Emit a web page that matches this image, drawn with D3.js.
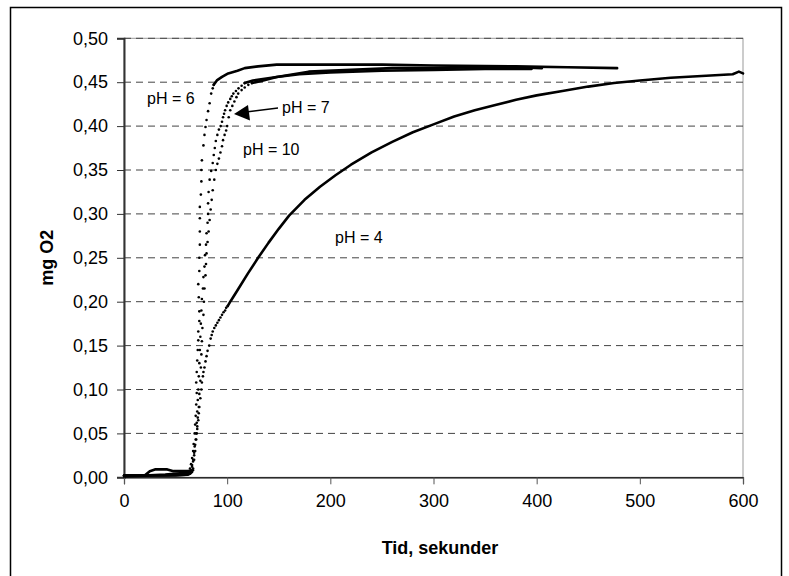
<!DOCTYPE html>
<html lang="da">
<head>
<meta charset="UTF-8">
<title>mg O2 mod tid</title>
<script src="https://d3js.org/d3.v7.min.js"></script>
<style>
    body { margin: 0; background: #fff; }
    svg { display: block; font-family: Arial, "Liberation Sans", sans-serif; }
    .tick-label { font-size: 18px; fill: #000; }
    .axis-title { font-size: 18px; font-weight: bold; fill: #000; }
    .ph-label { font-size: 16px; fill: #000; }
    .grid line { stroke: #444; stroke-dasharray: 7,5; }
</style>
</head>
<body>
<div id="chart"></div>
<script>
// tick values
const xTicks = [0, 100, 200, 300, 400, 500, 600];
const yTicks = [0, 0.05, 0.10, 0.15, 0.20, 0.25, 0.30, 0.35, 0.40, 0.45, 0.50];

// [tid (s), mg O2]
// baseline before the rise
const ph6Low = [[0, 0.002], [20, 0.002], [40, 0.002], [60, 0.003], [64, 0.004]];
const ph7Low = [[0, 0.002], [20, 0.002], [40, 0.003], [60, 0.005], [66, 0.006]];
const ph10Low = [[0, 0.002], [20, 0.002], [25, 0.007], [30, 0.009], [42, 0.009], [48, 0.007], [62, 0.007], [67, 0.008]];
const ph4Low = [[0, 0.001], [30, 0.002], [50, 0.002], [62, 0.003], [65, 0.005]];

// the steep part, where single samples show as dots
const ph6Rise = [[64, 0.010], [65, 0.015], [66, 0.022], [67, 0.03], [67.5, 0.038], [68.5, 0.05],
    [69, 0.06], [69.5, 0.07], [70, 0.083], [70.5, 0.096], [70, 0.108], [70.5, 0.12], [71, 0.133],
    [71.5, 0.145], [72, 0.156], [72, 0.166], [73, 0.178], [73, 0.189], [72.5, 0.205], [72, 0.22],
    [73, 0.235], [73, 0.25], [73.5, 0.265], [73.5, 0.28], [73.5, 0.295], [73.5, 0.308], [74.5, 0.322],
    [75, 0.337], [75, 0.35], [75.5, 0.361], [77, 0.378], [78, 0.39], [79, 0.399], [80, 0.407],
    [81.5, 0.417], [83, 0.426], [84.5, 0.437], [86, 0.443], [87, 0.447]];
const ph7Rise = [[66, 0.012], [67, 0.018], [68, 0.025], [69, 0.037], [70, 0.05], [70.5, 0.062],
    [71, 0.075], [71.5, 0.088], [72, 0.10], [72.5, 0.115], [73, 0.13], [73.5, 0.145], [74, 0.16],
    [74.5, 0.175], [75, 0.19], [75.5, 0.203], [76.5, 0.215], [77, 0.228], [78, 0.24], [78.5, 0.253],
    [79.5, 0.265], [80, 0.278], [81, 0.29], [81.5, 0.30], [81.5, 0.312], [82, 0.325], [83, 0.339],
    [84.5, 0.349], [86, 0.358], [87, 0.367], [88, 0.375], [89, 0.383], [90.5, 0.39], [92, 0.396],
    [93.7, 0.40], [95, 0.405], [96, 0.41], [97, 0.414], [98, 0.418], [99.5, 0.423], [101, 0.427],
    [103, 0.431], [104.5, 0.434], [106, 0.437], [108.5, 0.44], [111, 0.443], [114, 0.446], [117, 0.449]];
const ph10Rise = [[67, 0.01], [68, 0.02], [69, 0.03], [70, 0.043], [71, 0.055], [71.5, 0.068],
    [72.5, 0.08], [73, 0.095], [74, 0.11], [74.5, 0.125], [75, 0.14], [75.5, 0.155], [76, 0.17],
    [77, 0.185], [77.5, 0.2], [78, 0.215], [79, 0.23], [79.5, 0.243], [80, 0.255], [81, 0.268],
    [82, 0.28], [83, 0.293], [84, 0.305], [85, 0.316], [86, 0.327], [87.5, 0.339], [89, 0.35],
    [90.5, 0.357], [92, 0.363], [93.5, 0.37], [95, 0.377], [96, 0.384], [97.5, 0.39], [99, 0.395],
    [100, 0.40], [101.5, 0.41], [103, 0.418], [105, 0.423], [107, 0.428], [109, 0.433],
    [110.7, 0.437], [114, 0.441], [117, 0.444], [120.5, 0.447], [124, 0.449]];
const ph4Rise = [[65, 0.008], [66, 0.014], [67, 0.02], [68, 0.028], [68.5, 0.035], [69.5, 0.043],
    [70.5, 0.05], [71, 0.058], [72, 0.065], [72.5, 0.073], [73, 0.08], [74, 0.09], [75, 0.10],
    [75.5, 0.108], [76.5, 0.115], [77, 0.12], [78, 0.125], [79, 0.132], [80, 0.138], [81, 0.144],
    [82.6, 0.15], [84, 0.158], [85, 0.162], [86, 0.166], [87.5, 0.17], [89, 0.173], [90.5, 0.176],
    [92, 0.179], [93.5, 0.182], [95, 0.185], [96.5, 0.188], [98, 0.19], [99, 0.193], [100.5, 0.195]];

// dense part, samples merge into a line
const ph6High = [[87, 0.447], [90, 0.452], [95, 0.456], [101, 0.46], [110, 0.463], [117, 0.466],
    [130, 0.468], [148, 0.47], [200, 0.47], [250, 0.47], [300, 0.469], [380, 0.468], [430, 0.467], [478, 0.466]];
const ph7High = [[117, 0.449], [125, 0.452], [148, 0.456], [179, 0.462], [220, 0.464], [260, 0.466],
    [300, 0.466], [340, 0.467], [380, 0.467], [405, 0.466]];
const ph10High = [[124, 0.449], [135, 0.452], [148, 0.456], [170, 0.459], [200, 0.461], [250, 0.463],
    [300, 0.464], [350, 0.465], [395, 0.465]];
const ph4High = [[100.5, 0.195], [103, 0.20], [110, 0.213], [120, 0.232], [130, 0.25], [140, 0.267],
    [150, 0.283], [160, 0.298], [175, 0.316], [190, 0.331], [205, 0.344], [220, 0.356], [240, 0.37],
    [260, 0.382], [280, 0.393], [300, 0.402], [320, 0.411], [340, 0.418], [360, 0.424], [380, 0.43],
    [400, 0.435], [425, 0.44], [450, 0.445], [475, 0.449], [500, 0.452], [530, 0.455], [560, 0.457],
    [590, 0.459], [596, 0.462], [600, 0.460]];

const phLabels = ["pH = 6", "pH = 7", "pH = 10", "pH = 4"];

const W = 789, H = 576;
const plotLeft = 124, plotRight = 743, plotTop = 38.3, plotBottom = 477.3;

const svg = d3.select("#chart").append("svg")
    .attr("width", W)
    .attr("height", H);

// outer frame
svg.append("rect")
    .attr("x", 10.5).attr("y", 7.5)
    .attr("width", 771).attr("height", 620)
    .attr("fill", "none").attr("stroke", "#000").attr("stroke-width", 1.5);

const x = d3.scaleLinear().domain([0, 600]).range([plotLeft, plotRight]);
const y = d3.scaleLinear().domain([0, 0.5]).range([plotBottom, plotTop]);

// plot area border
svg.append("rect")
    .attr("x", plotLeft).attr("y", plotTop)
    .attr("width", plotRight - plotLeft).attr("height", plotBottom - plotTop)
    .attr("fill", "none").attr("stroke", "#999").attr("stroke-width", 1);

// grid
svg.append("g")
    .attr("class", "grid")
    .selectAll("line")
    .data(yTicks.filter(d => d > 0))
    .enter().append("line")
    .attr("x1", plotLeft).attr("x2", plotRight)
    .attr("y1", d => y(d)).attr("y2", d => y(d));

const comma = d => d3.format(".2f")(d).replace(".", ",");

// y axis
const yAxis = svg.append("g")
    .attr("transform", `translate(${plotLeft},0)`)
    .call(d3.axisLeft(y).tickValues(yTicks).tickFormat(comma).tickSize(7).tickPadding(9));
yAxis.select(".domain").attr("stroke", "#333").attr("stroke-width", 2);
yAxis.selectAll(".tick line").attr("stroke", "#333");
yAxis.selectAll("text").attr("class", "tick-label").attr("font-size", null).attr("font-family", null);

// x axis
const xAxis = svg.append("g")
    .attr("transform", `translate(0,${plotBottom})`)
    .call(d3.axisBottom(x).tickValues(xTicks).tickFormat(d3.format("d")).tickSize(7).tickPadding(10));
xAxis.select(".domain").attr("stroke", "#000").attr("stroke-width", 1.2);
xAxis.selectAll(".tick line").attr("stroke", "#555");
xAxis.selectAll("text").attr("class", "tick-label").attr("font-size", null).attr("font-family", null);

// axis titles
svg.append("text")
    .attr("class", "axis-title")
    .attr("x", 440).attr("y", 554)
    .attr("text-anchor", "middle")
    .text("Tid, sekunder");

svg.append("text")
    .attr("class", "axis-title")
    .attr("transform", `translate(53,${(plotTop + plotBottom) / 2}) rotate(-90)`)
    .attr("text-anchor", "middle")
    .text("mg O2");

// series
const line = d3.line().x(d => x(d[0])).y(d => y(d[1]));
const traces = [ph6Low, ph7Low, ph10Low, ph4Low, ph6High, ph7High, ph10High, ph4High];
const rises = [ph6Rise, ph7Rise, ph10Rise, ph4Rise];

svg.append("g").selectAll("path")
    .data(traces)
    .enter().append("path")
    .attr("d", line)
    .attr("fill", "none")
    .attr("stroke", "#000")
    .attr("stroke-width", 2.6)
    .attr("stroke-linejoin", "round")
    .attr("stroke-linecap", "round");

svg.append("g").selectAll("g")
    .data(rises)
    .enter().append("g")
    .selectAll("circle")
    .data(d => d)
    .enter().append("circle")
    .attr("cx", d => x(d[0]))
    .attr("cy", d => y(d[1]))
    .attr("r", 1.3)
    .attr("fill", "#000");

// labels
const labelPos = [[147, 104], [282, 113], [243, 155], [335, 243]];
svg.append("g").selectAll("text")
    .data(phLabels)
    .enter().append("text")
    .attr("class", "ph-label")
    .attr("x", (d, i) => labelPos[i][0])
    .attr("y", (d, i) => labelPos[i][1])
    .text(d => d);

// arrow for pH = 7
svg.append("line")
    .attr("x1", 278).attr("y1", 108)
    .attr("x2", 246).attr("y2", 112)
    .attr("stroke", "#000").attr("stroke-width", 1.5);
svg.append("path")
    .attr("d", "M234,114 L248,105 L250,120.5 Z")
    .attr("fill", "#000");
</script>
</body>
</html>
